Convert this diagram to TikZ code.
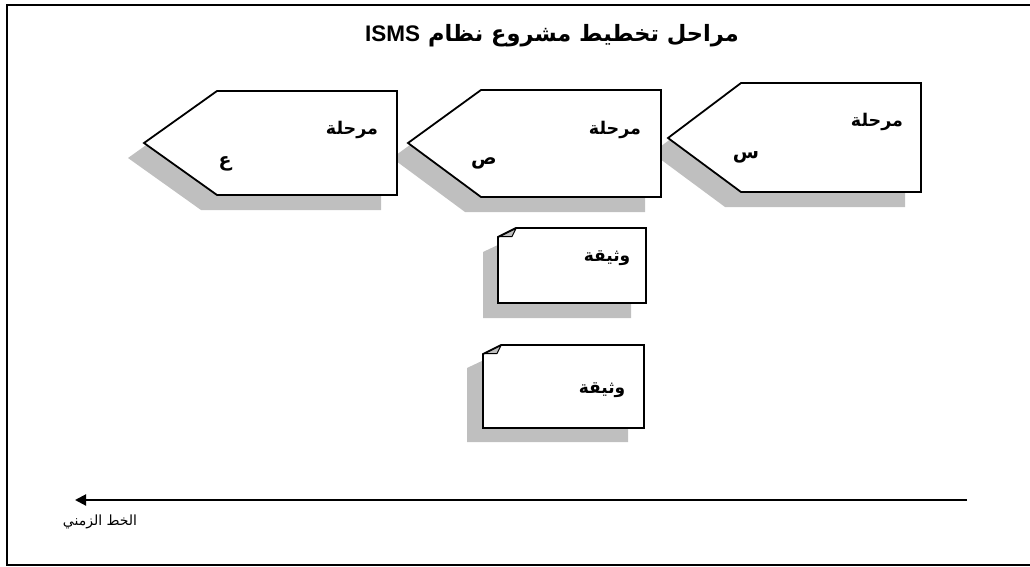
\documentclass[tikz,border=0pt]{standalone}
\usepackage{fontspec}
\setmainfont{Liberation Sans}
\newfontfamily\arabicfont[Script=Arabic]{DejaVu Sans}
\TeXXeTstate=1
\usetikzlibrary{arrows.meta}
\tikzset{
  outline/.style={draw=black,line width=1.8pt,fill=white,line join=miter},
  shadowfill/.style={fill=black!25,draw=none},
  stagetxt/.style={font=\arabicfont\bfseries\fontsize{17.5}{20}\selectfont,inner sep=0pt},
  lettertxt/.style={font=\arabicfont\bfseries\fontsize{19}{22}\selectfont,inner sep=0pt},
  doctxt/.style={font=\arabicfont\bfseries\fontsize{17}{20}\selectfont,inner sep=0pt},
}
\begin{document}
\begin{tikzpicture}[x=1pt,y=-1pt]
\useasboundingbox (0,0) rectangle (1030,567);
% frame
\draw[line width=2pt] (7,5) rectangle (1040,565);
% title
\node[inner sep=0pt] (title) at (552,36) {\arabicfont\bfseries\fontsize{22.5}{26}\selectfont\beginR مراحل تخطيط مشروع نظام \beginL{\rmfamily\bfseries\fontsize{22.5}{26}\selectfont ISMS}\endL\endR};
% stage shapes: shadows
\fill[shadowfill] (128,158) -- (201,106) -- (381,106) -- (381,210) -- (201,210) -- cycle;
\fill[shadowfill] (392,158) -- (465,105) -- (645,105) -- (645,212) -- (465,212) -- cycle;
\fill[shadowfill] (652,153) -- (725,98) -- (905,98) -- (905,207) -- (725,207) -- cycle;
% stage shapes
\draw[outline] (144,143) -- (217,91) -- (397,91) -- (397,195) -- (217,195) -- cycle;
\draw[outline] (408,143) -- (481,90) -- (661,90) -- (661,197) -- (481,197) -- cycle;
\draw[outline] (668,138) -- (741,83) -- (921,83) -- (921,192) -- (741,192) -- cycle;
\node[stagetxt] (s1a) at (352,130) {\beginR مرحلة\endR};
\node[lettertxt] (s1b) at (225,164) {\beginR ع\endR};
\node[stagetxt] (s2a) at (615,130) {\beginR مرحلة\endR};
\node[lettertxt] (s2b) at (484,163) {\beginR ص\endR};
\node[stagetxt] (s3a) at (877,122) {\beginR مرحلة\endR};
\node[lettertxt] (s3b) at (746,157) {\beginR س\endR};
% documents: shadows
\fill[shadowfill] (483,252) -- (500,244) -- (631,244) -- (631,318) -- (483,318) -- cycle;
\fill[shadowfill] (467,368) -- (484,360) -- (628,360) -- (628,442) -- (467,442) -- cycle;
% documents
\draw[outline] (498,303) -- (498,237) -- (516,228) -- (646,228) -- (646,303) -- cycle;
\filldraw[fill=black!25,draw=black,line width=1pt,line join=round] (500,236.5) -- (516,228.5) -- (512,236.5) -- cycle;
\draw[outline] (483,428) -- (483,354) -- (501,345) -- (644,345) -- (644,428) -- cycle;
\filldraw[fill=black!25,draw=black,line width=1pt,line join=round] (485,353.5) -- (501,345.5) -- (497,353.5) -- cycle;
\node[doctxt] (d1) at (607,258) {\beginR وثيقة\endR};
\node[doctxt] (d2) at (602,390) {\beginR وثيقة\endR};
% timeline
\coordinate (tstart) at (967,500);
\coordinate (tend) at (75,500);
\draw[line width=2pt,-{Triangle[length=11pt,width=11pt]}] (tstart) -- (tend);
\node[inner sep=0pt] (tl) at (100,522) {\arabicfont\fontsize{14}{16}\selectfont\beginR الخط الزمني\endR};
\end{tikzpicture}
\end{document}
